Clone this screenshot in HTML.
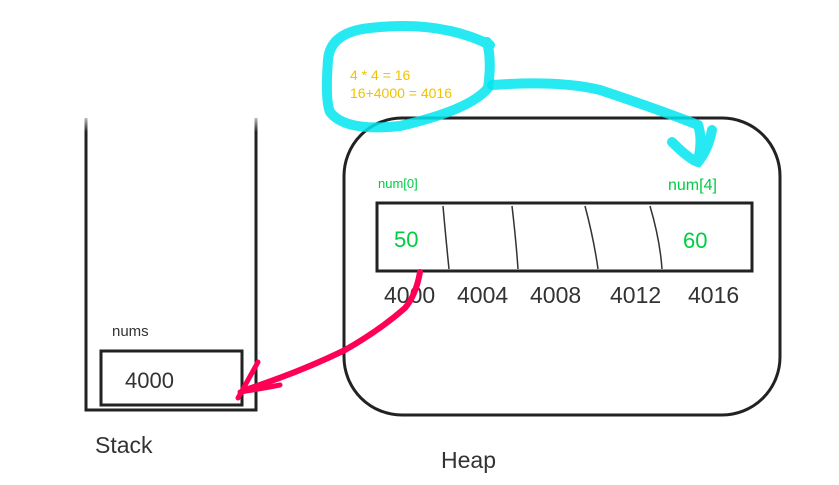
<!DOCTYPE html>
<html><head><meta charset="utf-8"><style>
html,body{margin:0;padding:0;background:#fff;}
svg{display:block;font-family:"Liberation Sans",Roboto,sans-serif;}
</style></head><body>
<svg width="839" height="485" viewBox="0 0 839 485">
<defs>
<linearGradient id="fade" x1="0" y1="0" x2="0" y2="1">
<stop offset="0" stop-color="#fff" stop-opacity="1"/><stop offset="1" stop-color="#fff" stop-opacity="0"/>
</linearGradient>
</defs>
<g>
<path d="M86 118 L86 410 L256 410 L256 118" fill="none" stroke="#222" stroke-width="3"/>
<rect x="80" y="112" width="182" height="20" fill="url(#fade)"/>
<rect x="101" y="351" width="141" height="54" fill="none" stroke="#222" stroke-width="3"/>
<text x="112" y="336" font-size="15" fill="#333">nums</text>
<text x="125" y="388" font-size="22" fill="#333">4000</text>
<text x="95" y="453" font-size="23" fill="#333">Stack</text>
</g>
<g>
<rect x="344" y="118" width="436" height="297" rx="58" ry="58" fill="none" stroke="#222" stroke-width="3"/>
<text x="441" y="468" font-size="23" fill="#333">Heap</text>
<text x="378" y="188" font-size="13" fill="#00cc44">num[0]</text>
<text x="668" y="190" font-size="16" fill="#00cc44">num[4]</text>
<rect x="377" y="203" width="375" height="68" fill="none" stroke="#222" stroke-width="3"/>
<path d="M443 206 Q446 240 449 269 M512 206 Q516 240 518 269 M585 206 Q594 240 598 269 M650 206 Q660 240 662 269" fill="none" stroke="#333" stroke-width="1.5"/>
<text x="394" y="247" font-size="22" fill="#00cc44">50</text>
<text x="683" y="248" font-size="22" fill="#00cc44">60</text>
<g font-size="23" fill="#333">
<text x="384" y="303">4000</text>
<text x="457" y="303">4004</text>
<text x="530" y="303">4008</text>
<text x="610" y="303">4012</text>
<text x="688" y="303">4016</text>
</g>
</g>
<g fill="none" stroke="#00e5f0" stroke-width="10" stroke-linecap="round" stroke-opacity="0.85">
<path d="M490 45 Q440 20 370 28 Q330 32 328 60 Q325 100 330 112 Q345 132 400 126 Q470 110 488 88 Q492 60 487 42"/>
<path d="M492 85 Q560 80 600 90 Q660 110 698 125 Q703 140 698 160 M672 142 Q690 160 698 162 Q708 150 712 130"/>
</g>
<text x="350" y="80" font-size="14" fill="#f2c200">4 * 4 = 16</text>
<text x="350" y="98" font-size="14" fill="#f2c200">16+4000 = 4016</text>
<g fill="none" stroke="#ff0055" stroke-linecap="round">
<path d="M420 272 Q416 295 405 308 Q380 330 345 350 Q300 372 245 390" stroke-width="6"/>
<path d="M258 362 Q248 380 238 398 M240 392 Q265 388 280 385" stroke-width="5"/>
</g>
</svg>
</body></html>
